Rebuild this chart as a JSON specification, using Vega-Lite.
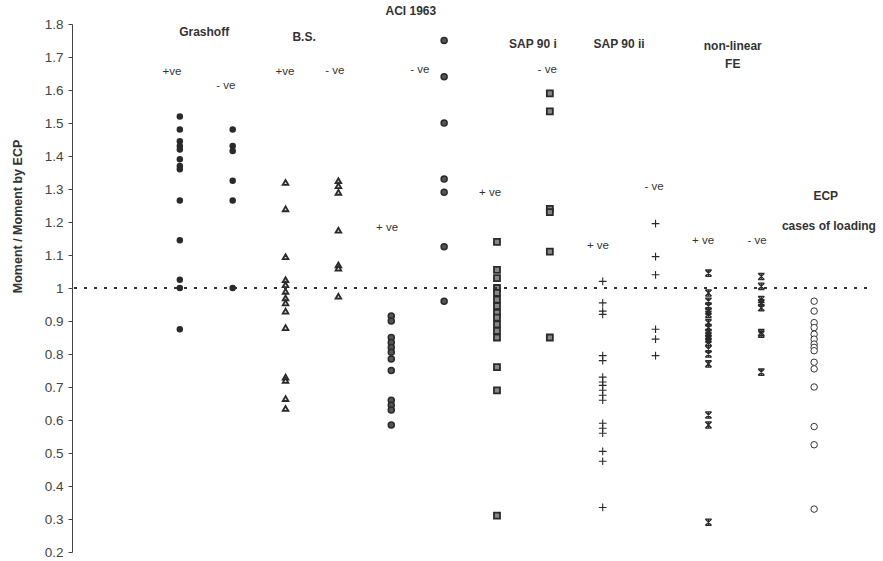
{
  "$schema": "https://vega.github.io/schema/vega-lite/v6.json",
  "width": 795,
  "height": 528,
  "autosize": {"type": "none"},
  "padding": {"left": 72, "top": 24, "right": 16, "bottom": 9},
  "background": "white",
  "config": {"view": {"stroke": null}, "font": "Liberation Sans"},
  "datasets": {
    "points": [
      {"method":"Grashoff","sign":"+ve","col":0,"ratio":1.52},
      {"method":"Grashoff","sign":"+ve","col":0,"ratio":1.48},
      {"method":"Grashoff","sign":"+ve","col":0,"ratio":1.445},
      {"method":"Grashoff","sign":"+ve","col":0,"ratio":1.43},
      {"method":"Grashoff","sign":"+ve","col":0,"ratio":1.42},
      {"method":"Grashoff","sign":"+ve","col":0,"ratio":1.39},
      {"method":"Grashoff","sign":"+ve","col":0,"ratio":1.37},
      {"method":"Grashoff","sign":"+ve","col":0,"ratio":1.36},
      {"method":"Grashoff","sign":"+ve","col":0,"ratio":1.265},
      {"method":"Grashoff","sign":"+ve","col":0,"ratio":1.145},
      {"method":"Grashoff","sign":"+ve","col":0,"ratio":1.025},
      {"method":"Grashoff","sign":"+ve","col":0,"ratio":1.0},
      {"method":"Grashoff","sign":"+ve","col":0,"ratio":0.875},
      {"method":"Grashoff","sign":"-ve","col":1,"ratio":1.48},
      {"method":"Grashoff","sign":"-ve","col":1,"ratio":1.43},
      {"method":"Grashoff","sign":"-ve","col":1,"ratio":1.415},
      {"method":"Grashoff","sign":"-ve","col":1,"ratio":1.325},
      {"method":"Grashoff","sign":"-ve","col":1,"ratio":1.265},
      {"method":"Grashoff","sign":"-ve","col":1,"ratio":1.0},
      {"method":"B.S.","sign":"+ve","col":2,"ratio":1.32},
      {"method":"B.S.","sign":"+ve","col":2,"ratio":1.24},
      {"method":"B.S.","sign":"+ve","col":2,"ratio":1.095},
      {"method":"B.S.","sign":"+ve","col":2,"ratio":1.025},
      {"method":"B.S.","sign":"+ve","col":2,"ratio":1.01},
      {"method":"B.S.","sign":"+ve","col":2,"ratio":0.99},
      {"method":"B.S.","sign":"+ve","col":2,"ratio":0.97},
      {"method":"B.S.","sign":"+ve","col":2,"ratio":0.955},
      {"method":"B.S.","sign":"+ve","col":2,"ratio":0.93},
      {"method":"B.S.","sign":"+ve","col":2,"ratio":0.88},
      {"method":"B.S.","sign":"+ve","col":2,"ratio":0.73},
      {"method":"B.S.","sign":"+ve","col":2,"ratio":0.72},
      {"method":"B.S.","sign":"+ve","col":2,"ratio":0.665},
      {"method":"B.S.","sign":"+ve","col":2,"ratio":0.635},
      {"method":"B.S.","sign":"-ve","col":3,"ratio":1.325},
      {"method":"B.S.","sign":"-ve","col":3,"ratio":1.31},
      {"method":"B.S.","sign":"-ve","col":3,"ratio":1.29},
      {"method":"B.S.","sign":"-ve","col":3,"ratio":1.175},
      {"method":"B.S.","sign":"-ve","col":3,"ratio":1.07},
      {"method":"B.S.","sign":"-ve","col":3,"ratio":1.06},
      {"method":"B.S.","sign":"-ve","col":3,"ratio":0.975},
      {"method":"ACI 1963","sign":"+ve","col":4,"ratio":0.915},
      {"method":"ACI 1963","sign":"+ve","col":4,"ratio":0.9},
      {"method":"ACI 1963","sign":"+ve","col":4,"ratio":0.85},
      {"method":"ACI 1963","sign":"+ve","col":4,"ratio":0.835},
      {"method":"ACI 1963","sign":"+ve","col":4,"ratio":0.82},
      {"method":"ACI 1963","sign":"+ve","col":4,"ratio":0.805},
      {"method":"ACI 1963","sign":"+ve","col":4,"ratio":0.785},
      {"method":"ACI 1963","sign":"+ve","col":4,"ratio":0.75},
      {"method":"ACI 1963","sign":"+ve","col":4,"ratio":0.66},
      {"method":"ACI 1963","sign":"+ve","col":4,"ratio":0.645},
      {"method":"ACI 1963","sign":"+ve","col":4,"ratio":0.63},
      {"method":"ACI 1963","sign":"+ve","col":4,"ratio":0.585},
      {"method":"ACI 1963","sign":"-ve","col":5,"ratio":1.75},
      {"method":"ACI 1963","sign":"-ve","col":5,"ratio":1.64},
      {"method":"ACI 1963","sign":"-ve","col":5,"ratio":1.5},
      {"method":"ACI 1963","sign":"-ve","col":5,"ratio":1.33},
      {"method":"ACI 1963","sign":"-ve","col":5,"ratio":1.29},
      {"method":"ACI 1963","sign":"-ve","col":5,"ratio":1.125},
      {"method":"ACI 1963","sign":"-ve","col":5,"ratio":0.96},
      {"method":"SAP 90 i","sign":"+ve","col":6,"ratio":1.14},
      {"method":"SAP 90 i","sign":"+ve","col":6,"ratio":1.055},
      {"method":"SAP 90 i","sign":"+ve","col":6,"ratio":1.03},
      {"method":"SAP 90 i","sign":"+ve","col":6,"ratio":1.0},
      {"method":"SAP 90 i","sign":"+ve","col":6,"ratio":0.985},
      {"method":"SAP 90 i","sign":"+ve","col":6,"ratio":0.965},
      {"method":"SAP 90 i","sign":"+ve","col":6,"ratio":0.945},
      {"method":"SAP 90 i","sign":"+ve","col":6,"ratio":0.925},
      {"method":"SAP 90 i","sign":"+ve","col":6,"ratio":0.91},
      {"method":"SAP 90 i","sign":"+ve","col":6,"ratio":0.89},
      {"method":"SAP 90 i","sign":"+ve","col":6,"ratio":0.87},
      {"method":"SAP 90 i","sign":"+ve","col":6,"ratio":0.85},
      {"method":"SAP 90 i","sign":"+ve","col":6,"ratio":0.76},
      {"method":"SAP 90 i","sign":"+ve","col":6,"ratio":0.69},
      {"method":"SAP 90 i","sign":"+ve","col":6,"ratio":0.31},
      {"method":"SAP 90 i","sign":"-ve","col":7,"ratio":1.59},
      {"method":"SAP 90 i","sign":"-ve","col":7,"ratio":1.535},
      {"method":"SAP 90 i","sign":"-ve","col":7,"ratio":1.24},
      {"method":"SAP 90 i","sign":"-ve","col":7,"ratio":1.23},
      {"method":"SAP 90 i","sign":"-ve","col":7,"ratio":1.11},
      {"method":"SAP 90 i","sign":"-ve","col":7,"ratio":0.85},
      {"method":"SAP 90 ii","sign":"+ve","col":8,"ratio":1.02},
      {"method":"SAP 90 ii","sign":"+ve","col":8,"ratio":0.955},
      {"method":"SAP 90 ii","sign":"+ve","col":8,"ratio":0.93},
      {"method":"SAP 90 ii","sign":"+ve","col":8,"ratio":0.92},
      {"method":"SAP 90 ii","sign":"+ve","col":8,"ratio":0.795},
      {"method":"SAP 90 ii","sign":"+ve","col":8,"ratio":0.78},
      {"method":"SAP 90 ii","sign":"+ve","col":8,"ratio":0.73},
      {"method":"SAP 90 ii","sign":"+ve","col":8,"ratio":0.715},
      {"method":"SAP 90 ii","sign":"+ve","col":8,"ratio":0.705},
      {"method":"SAP 90 ii","sign":"+ve","col":8,"ratio":0.69},
      {"method":"SAP 90 ii","sign":"+ve","col":8,"ratio":0.675},
      {"method":"SAP 90 ii","sign":"+ve","col":8,"ratio":0.66},
      {"method":"SAP 90 ii","sign":"+ve","col":8,"ratio":0.59},
      {"method":"SAP 90 ii","sign":"+ve","col":8,"ratio":0.575},
      {"method":"SAP 90 ii","sign":"+ve","col":8,"ratio":0.56},
      {"method":"SAP 90 ii","sign":"+ve","col":8,"ratio":0.505},
      {"method":"SAP 90 ii","sign":"+ve","col":8,"ratio":0.475},
      {"method":"SAP 90 ii","sign":"+ve","col":8,"ratio":0.335},
      {"method":"SAP 90 ii","sign":"-ve","col":9,"ratio":1.195},
      {"method":"SAP 90 ii","sign":"-ve","col":9,"ratio":1.095},
      {"method":"SAP 90 ii","sign":"-ve","col":9,"ratio":1.04},
      {"method":"SAP 90 ii","sign":"-ve","col":9,"ratio":0.875},
      {"method":"SAP 90 ii","sign":"-ve","col":9,"ratio":0.845},
      {"method":"SAP 90 ii","sign":"-ve","col":9,"ratio":0.795},
      {"method":"non-linear FE","sign":"+ve","col":10,"ratio":1.045},
      {"method":"non-linear FE","sign":"+ve","col":10,"ratio":0.985},
      {"method":"non-linear FE","sign":"+ve","col":10,"ratio":0.96},
      {"method":"non-linear FE","sign":"+ve","col":10,"ratio":0.945},
      {"method":"non-linear FE","sign":"+ve","col":10,"ratio":0.93},
      {"method":"non-linear FE","sign":"+ve","col":10,"ratio":0.92},
      {"method":"non-linear FE","sign":"+ve","col":10,"ratio":0.895},
      {"method":"non-linear FE","sign":"+ve","col":10,"ratio":0.88},
      {"method":"non-linear FE","sign":"+ve","col":10,"ratio":0.865},
      {"method":"non-linear FE","sign":"+ve","col":10,"ratio":0.855},
      {"method":"non-linear FE","sign":"+ve","col":10,"ratio":0.845},
      {"method":"non-linear FE","sign":"+ve","col":10,"ratio":0.835},
      {"method":"non-linear FE","sign":"+ve","col":10,"ratio":0.815},
      {"method":"non-linear FE","sign":"+ve","col":10,"ratio":0.8},
      {"method":"non-linear FE","sign":"+ve","col":10,"ratio":0.77},
      {"method":"non-linear FE","sign":"+ve","col":10,"ratio":0.615},
      {"method":"non-linear FE","sign":"+ve","col":10,"ratio":0.585},
      {"method":"non-linear FE","sign":"+ve","col":10,"ratio":0.29},
      {"method":"non-linear FE","sign":"-ve","col":11,"ratio":1.035},
      {"method":"non-linear FE","sign":"-ve","col":11,"ratio":1.005},
      {"method":"non-linear FE","sign":"-ve","col":11,"ratio":0.965},
      {"method":"non-linear FE","sign":"-ve","col":11,"ratio":0.955},
      {"method":"non-linear FE","sign":"-ve","col":11,"ratio":0.94},
      {"method":"non-linear FE","sign":"-ve","col":11,"ratio":0.865},
      {"method":"non-linear FE","sign":"-ve","col":11,"ratio":0.86},
      {"method":"non-linear FE","sign":"-ve","col":11,"ratio":0.745},
      {"method":"ECP","sign":"case","col":12,"ratio":0.96},
      {"method":"ECP","sign":"case","col":12,"ratio":0.93},
      {"method":"ECP","sign":"case","col":12,"ratio":0.895},
      {"method":"ECP","sign":"case","col":12,"ratio":0.88},
      {"method":"ECP","sign":"case","col":12,"ratio":0.86},
      {"method":"ECP","sign":"case","col":12,"ratio":0.845},
      {"method":"ECP","sign":"case","col":12,"ratio":0.83},
      {"method":"ECP","sign":"case","col":12,"ratio":0.82},
      {"method":"ECP","sign":"case","col":12,"ratio":0.81},
      {"method":"ECP","sign":"case","col":12,"ratio":0.775},
      {"method":"ECP","sign":"case","col":12,"ratio":0.755},
      {"method":"ECP","sign":"case","col":12,"ratio":0.7},
      {"method":"ECP","sign":"case","col":12,"ratio":0.58},
      {"method":"ECP","sign":"case","col":12,"ratio":0.525},
      {"method":"ECP","sign":"case","col":12,"ratio":0.33}
    ],
    "labels": [
      {"text":"Grashoff","kind":"method","col":0.46,"ratio":1.776},
      {"text":"B.S.","kind":"method","col":2.35,"ratio":1.76},
      {"text":"ACI 1963","kind":"method","col":4.37,"ratio":1.839},
      {"text":"SAP 90  i","kind":"method","col":6.68,"ratio":1.739},
      {"text":"SAP 90  ii","kind":"method","col":8.31,"ratio":1.739},
      {"text":"non-linear","kind":"method","col":10.46,"ratio":1.733},
      {"text":"FE","kind":"method","col":10.46,"ratio":1.679},
      {"text":"ECP","kind":"method","col":12.22,"ratio":1.279},
      {"text":"cases of loading","kind":"method","col":12.28,"ratio":1.188},
      {"text":"+ve","kind":"sign","col":-0.15,"ratio":1.655},
      {"text":"- ve","kind":"sign","col":0.87,"ratio":1.612},
      {"text":"+ve","kind":"sign","col":1.99,"ratio":1.655},
      {"text":"- ve","kind":"sign","col":2.93,"ratio":1.658},
      {"text":"- ve","kind":"sign","col":4.54,"ratio":1.661},
      {"text":"+ ve","kind":"sign","col":3.92,"ratio":1.182},
      {"text":"+ ve","kind":"sign","col":5.87,"ratio":1.288},
      {"text":"- ve","kind":"sign","col":6.95,"ratio":1.661},
      {"text":"+ ve","kind":"sign","col":7.91,"ratio":1.127},
      {"text":"- ve","kind":"sign","col":8.97,"ratio":1.306},
      {"text":"+ ve","kind":"sign","col":9.9,"ratio":1.142},
      {"text":"- ve","kind":"sign","col":10.92,"ratio":1.142}
    ]
  },
  "encoding": {
    "y": {"field": "ratio", "type": "quantitative", "scale": {"domain": [0.2, 1.8], "nice": false, "zero": false},
      "axis": {
        "title": "Moment / Moment by ECP",
        "values": [0.2,0.3,0.4,0.5,0.6,0.7,0.8,0.9,1,1.1,1.2,1.3,1.4,1.5,1.6,1.7,1.8],
        "format": "~g",
        "grid": false,
        "labelFont": "Liberation Sans",
        "labelFontSize": 13.5,
        "labelColor": "#444",
        "labelPadding": 5,
        "labelFlush": false,
        "labelOverlap": false,
        "tickSize": 4,
        "tickColor": "#444",
        "domainColor": "#444",
        "titleFont": "Liberation Sans",
        "titleFontSize": 12.5,
        "titleFontWeight": "bold",
        "titleColor": "#333",
        "titleAngle": -90,
        "titleX": -55,
        "titleY": 192,
        "titleAlign": "center",
        "titleBaseline": "middle"
      }
    },
    "x": {"field": "col", "type": "quantitative", "scale": {"domain": [-2.04, 13], "nice": false, "zero": false}, "axis": null}
  },
  "layer": [
    {
      "data": {"name": "points"},
      "transform": [{"filter": "datum.method === 'Grashoff'"}],
      "mark": {"type": "point", "shape": "circle", "filled": true, "color": "#2a2a2a", "size": 42, "opacity": 1}
    },
    {
      "data": {"name": "points"},
      "transform": [{"filter": "datum.method === 'B.S.'"}],
      "mark": {"type": "point", "shape": "triangle-up", "filled": false, "fill": "#ddd", "stroke": "#2a2a2a", "strokeWidth": 1.8, "size": 32, "opacity": 1, "fillOpacity": 1}
    },
    {
      "data": {"name": "points"},
      "transform": [{"filter": "datum.method === 'ACI 1963'"}],
      "mark": {"type": "point", "shape": "circle", "filled": false, "fill": "#555", "stroke": "#2a2a2a", "strokeWidth": 1.5, "size": 36, "opacity": 1, "fillOpacity": 1}
    },
    {
      "data": {"name": "points"},
      "transform": [{"filter": "datum.method === 'SAP 90 i'"}],
      "mark": {"type": "point", "shape": "square", "filled": false, "fill": "#888", "stroke": "#2a2a2a", "strokeWidth": 1.8, "size": 36, "opacity": 1, "fillOpacity": 1}
    },
    {
      "data": {"name": "points"},
      "transform": [{"filter": "datum.method === 'SAP 90 ii'"}],
      "mark": {"type": "point", "shape": "M-1,0H1M0,-1V1", "filled": false, "stroke": "#2a2a2a", "strokeWidth": 1.1, "size": 60, "opacity": 1}
    },
    {
      "data": {"name": "points"},
      "transform": [{"filter": "datum.method === 'non-linear FE'"}],
      "mark": {"type": "point", "shape": "M-1,-1L1,1M-1,1L1,-1M0,-1V1M-1,-1H1M-1,1H1", "filled": false, "stroke": "#2a2a2a", "strokeWidth": 1.3, "size": 40, "opacity": 1}
    },
    {
      "data": {"name": "points"},
      "transform": [{"filter": "datum.method === 'ECP'"}],
      "mark": {"type": "point", "shape": "circle", "filled": false, "fill": "white", "stroke": "#333", "strokeWidth": 1, "size": 42, "opacity": 1, "fillOpacity": 1}
    },
    {
      "data": {"name": "labels"},
      "transform": [{"filter": "datum.kind === 'method'"}],
      "mark": {"type": "text", "font": "Liberation Sans", "fontSize": 12, "fontWeight": "bold", "color": "#333", "align": "center", "baseline": "middle"},
      "encoding": {"text": {"field": "text"}}
    },
    {
      "data": {"name": "labels"},
      "transform": [{"filter": "datum.kind === 'sign'"}],
      "mark": {"type": "text", "font": "Liberation Sans", "fontSize": 11.5, "color": "#333", "align": "center", "baseline": "middle"},
      "encoding": {"text": {"field": "text"}}
    },
    {
      "data": {"name": "points"},
      "mark": {"type": "rule", "strokeDash": [3, 7], "strokeWidth": 1.6, "color": "#333"},
      "encoding": {"x": null, "y": {"datum": 1, "type": "quantitative"}}
    }
  ]
}
